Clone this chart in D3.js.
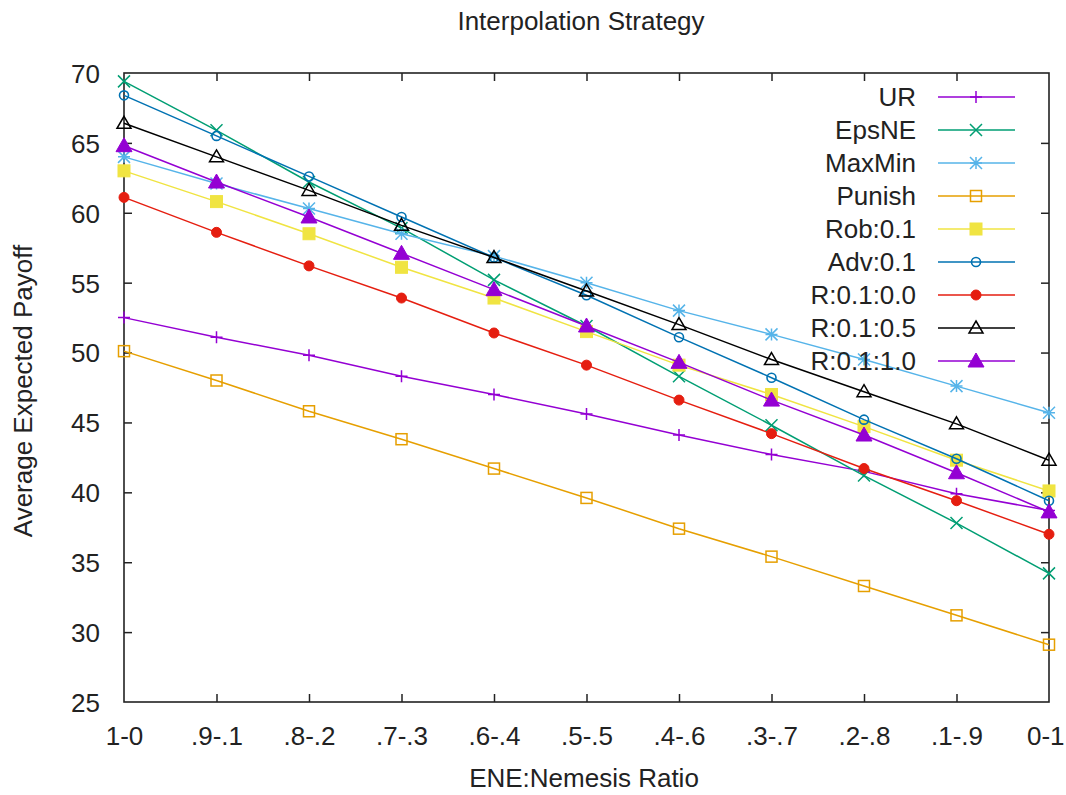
<!DOCTYPE html>
<html>
<head>
<meta charset="utf-8">
<script src="https://cdn.jsdelivr.net/npm/d3@7"></script>
<style>
  html, body { margin: 0; padding: 0; background: #fff; }
  svg text { font-family: "Liberation Sans", Arial, sans-serif; fill: #222; }
</style>
</head>
<body>
<svg id="chart" width="1066" height="795"></svg>
<script>
// Ratio categories along the x axis
const ratios = ["1-0", ".9-.1", ".8-.2", ".7-.3", ".6-.4", ".5-.5", ".4-.6", ".3-.7", ".2-.8", ".1-.9", "0-1"];
const yTicks = [25, 30, 35, 40, 45, 50, 55, 60, 65, 70];

// Average expected payoff per strategy
const ur      = [52.5, 51.1, 49.8, 48.3, 47.0, 45.6, 44.1, 42.7, 41.5, 39.9, 38.7];
const epsNE   = [69.4, 65.9, 62.2, 58.9, 55.2, 51.9, 48.3, 44.8, 41.2, 37.8, 34.2];
const maxMin  = [64.0, 62.1, 60.3, 58.5, 56.9, 55.0, 53.0, 51.3, 49.5, 47.6, 45.7];
const punish  = [50.1, 48.0, 45.8, 43.8, 41.7, 39.6, 37.4, 35.4, 33.3, 31.2, 29.1];
const rob01   = [63.0, 60.8, 58.5, 56.1, 53.9, 51.5, 49.1, 47.0, 44.7, 42.3, 40.1];
const adv01   = [68.4, 65.5, 62.6, 59.7, 56.8, 54.1, 51.1, 48.2, 45.2, 42.4, 39.4];
const r0100   = [61.1, 58.6, 56.2, 53.9, 51.4, 49.1, 46.6, 44.2, 41.7, 39.4, 37.0];
const r0105   = [66.4, 64.0, 61.6, 59.1, 56.8, 54.4, 52.0, 49.5, 47.2, 44.9, 42.3];
const r0110   = [64.8, 62.2, 59.7, 57.1, 54.5, 51.9, 49.3, 46.6, 44.1, 41.4, 38.6];

const seriesNames = ["UR", "EpsNE", "MaxMin", "Punish", "Rob:0.1", "Adv:0.1", "R:0.1:0.0", "R:0.1:0.5", "R:0.1:1.0"];
const seriesValues = [ur, epsNE, maxMin, punish, rob01, adv01, r0100, r0105, r0110];
const seriesColors = ["#9400d3", "#009e73", "#56b4e9", "#e69f00", "#f0e442", "#0072b2", "#e51e10", "#000000", "#9400d3"];
const seriesMarkers = ["plus", "cross", "star", "squareOpen", "squareFilled", "circleOpen", "circleFilled", "triangleOpen", "triangleFilled"];

const margin = { left: 124, right: 1049, top: 73, bottom: 702 };
const svg = d3.select("#chart");
const fontSize = "26px";

const x = d3.scalePoint().domain(ratios).range([margin.left, margin.right]);
const y = d3.scaleLinear().domain([25, 70]).range([margin.bottom, margin.top]);

// Title
svg.append("text").attr("x", 581).attr("y", 30).attr("text-anchor", "middle")
  .style("font-size", fontSize).text("Interpolation Strategy");

// Axis titles
svg.append("text").attr("x", 584).attr("y", 787).attr("text-anchor", "middle")
  .style("font-size", fontSize).text("ENE:Nemesis Ratio");
svg.append("text").attr("transform", "translate(32,391) rotate(-90)").attr("text-anchor", "middle")
  .style("font-size", fontSize).text("Average Expected Payoff");

// Axes with inward ticks, mirrored on top and right
const tickLen = 8;
const axB = svg.append("g").attr("transform", `translate(0,${margin.bottom})`)
  .call(d3.axisBottom(x).tickSizeInner(-tickLen).tickSizeOuter(0));
const axL = svg.append("g").attr("transform", `translate(${margin.left},0)`)
  .call(d3.axisLeft(y).tickValues(yTicks).tickFormat(d3.format("d")).tickSizeInner(-tickLen).tickSizeOuter(0).tickPadding(24));
const axT = svg.append("g").attr("transform", `translate(0,${margin.top})`)
  .call(d3.axisTop(x).tickSizeInner(-tickLen).tickSizeOuter(0).tickFormat(""));
const axR = svg.append("g").attr("transform", `translate(${margin.right},0)`)
  .call(d3.axisRight(y).tickValues(yTicks).tickSizeInner(-tickLen).tickSizeOuter(0).tickFormat(""));

[axB, axL, axT, axR].forEach(g => {
  g.select(".domain").remove();
  g.selectAll(".tick line").attr("stroke", "#222").attr("stroke-width", 1.5);
  g.selectAll(".tick text").style("font-size", fontSize).attr("fill", "#222")
    .style("font-family", "'Liberation Sans', Arial, sans-serif");
});
axB.selectAll(".tick text").attr("dy", "0").attr("y", 43);
// keep the last category label inside the page
axB.selectAll(".tick").filter(d => d === ratios[ratios.length - 1]).select("text")
  .attr("text-anchor", "end").attr("x", 15);
axL.selectAll(".tick text").attr("dy", "0.36em");
// remove ticks that coincide with the frame corners
axB.selectAll(".tick").filter(d => d === ratios[0] || d === ratios[ratios.length - 1]).select("line").remove();
axT.selectAll(".tick").filter(d => d === ratios[0] || d === ratios[ratios.length - 1]).select("line").remove();
axL.selectAll(".tick").filter(d => d === 25 || d === 70).select("line").remove();
axR.selectAll(".tick").filter(d => d === 25 || d === 70).select("line").remove();

// Frame
svg.append("rect").attr("x", margin.left).attr("y", margin.top)
  .attr("width", margin.right - margin.left).attr("height", margin.bottom - margin.top)
  .attr("fill", "none").attr("stroke", "#222").attr("stroke-width", 1.6);

// Marker drawing
function drawMarker(g, type, cx, cy, color) {
  const s = 6;
  switch (type) {
    case "plus":
      g.append("path").attr("d", `M${cx - s},${cy}H${cx + s}M${cx},${cy - s}V${cy + s}`)
        .attr("stroke", color).attr("stroke-width", 1.5).attr("fill", "none");
      break;
    case "cross":
      g.append("path").attr("d", `M${cx - s},${cy - s}L${cx + s},${cy + s}M${cx - s},${cy + s}L${cx + s},${cy - s}`)
        .attr("stroke", color).attr("stroke-width", 1.5).attr("fill", "none");
      break;
    case "star":
      g.append("path").attr("d", `M${cx - s},${cy}H${cx + s}M${cx},${cy - s}V${cy + s}M${cx - s},${cy - s}L${cx + s},${cy + s}M${cx - s},${cy + s}L${cx + s},${cy - s}`)
        .attr("stroke", color).attr("stroke-width", 1.5).attr("fill", "none");
      break;
    case "squareOpen":
      g.append("rect").attr("x", cx - 5.5).attr("y", cy - 5.5).attr("width", 11).attr("height", 11)
        .attr("fill", "none").attr("stroke", color).attr("stroke-width", 1.5);
      break;
    case "squareFilled":
      g.append("rect").attr("x", cx - 6).attr("y", cy - 6).attr("width", 12).attr("height", 12)
        .attr("fill", color).attr("stroke", color).attr("stroke-width", 1);
      break;
    case "circleOpen":
      g.append("circle").attr("cx", cx).attr("cy", cy).attr("r", 4.5)
        .attr("fill", "none").attr("stroke", color).attr("stroke-width", 1.6);
      break;
    case "circleFilled":
      g.append("circle").attr("cx", cx).attr("cy", cy).attr("r", 5)
        .attr("fill", color).attr("stroke", color).attr("stroke-width", 1);
      break;
    case "triangleOpen":
      g.append("path").attr("d", `M${cx},${cy - 7}L${cx + 7},${cy + 5}L${cx - 7},${cy + 5}Z`)
        .attr("fill", "none").attr("stroke", color).attr("stroke-width", 1.5);
      break;
    case "triangleFilled":
      g.append("path").attr("d", `M${cx},${cy - 8}L${cx + 8},${cy + 6}L${cx - 8},${cy + 6}Z`)
        .attr("fill", color).attr("stroke", color).attr("stroke-width", 1);
      break;
  }
}

const line = d3.line().x((d, i) => x(ratios[i])).y(d => y(d));
const plot = svg.append("g");

seriesValues.forEach((vals, k) => {
  const g = plot.append("g");
  g.append("path").datum(vals).attr("d", line)
    .attr("fill", "none").attr("stroke", seriesColors[k]).attr("stroke-width", 1.5);
  vals.forEach((v, i) => drawMarker(g, seriesMarkers[k], x(ratios[i]), y(v), seriesColors[k]));
});

// Legend
const legend = svg.append("g");
seriesNames.forEach((name, k) => {
  const ly = 97 + k * 33;
  legend.append("text").attr("x", 916).attr("y", ly + 9).attr("text-anchor", "end")
    .style("font-size", fontSize).text(name);
  legend.append("line").attr("x1", 938).attr("x2", 1015).attr("y1", ly).attr("y2", ly)
    .attr("stroke", seriesColors[k]).attr("stroke-width", 1.5);
  drawMarker(legend, seriesMarkers[k], 976, ly, seriesColors[k]);
});
</script>
</body>
</html>
